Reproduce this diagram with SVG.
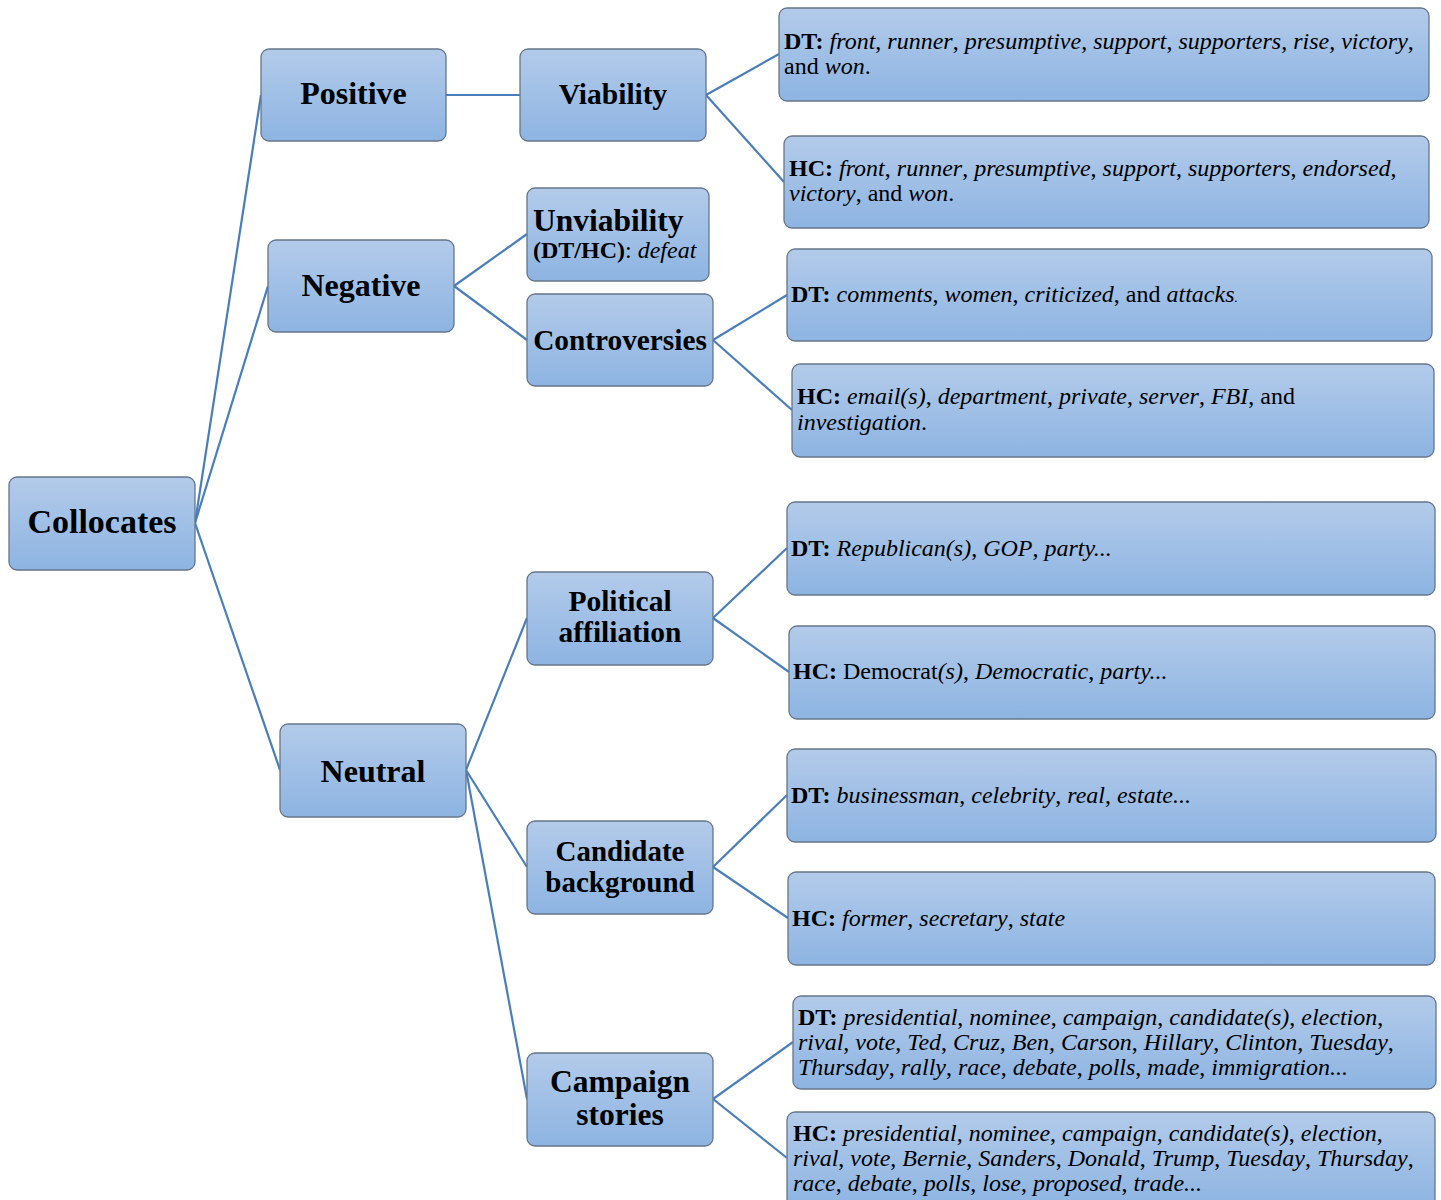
<svg xmlns="http://www.w3.org/2000/svg" width="1441" height="1200" viewBox="0 0 1441 1200">
<defs>
<linearGradient id="g" x1="0" y1="0" x2="0" y2="1">
<stop offset="0" stop-color="#b3cbea"/>
<stop offset="1" stop-color="#8db4e2"/>
</linearGradient>
<style>
.box{fill:url(#g);stroke:#66768a;stroke-width:1.3}
.c{stroke:#4a7ebb;stroke-width:2.2;fill:none}
.n{font-family:"Liberation Serif","Times New Roman",serif;font-weight:bold;fill:#000;text-anchor:middle}
.t{font-family:"Liberation Serif","Times New Roman",serif;font-size:24px;fill:#000}
.b{font-weight:bold}
.i{font-style:italic}
</style>
</defs>
<rect width="1441" height="1200" fill="#fff"/>
<g id="connectors">
<line class="c" x1="195" y1="523" x2="261" y2="95"/>
<line class="c" x1="195" y1="523" x2="268" y2="286"/>
<line class="c" x1="195" y1="523" x2="280" y2="770"/>
<line class="c" x1="446" y1="95" x2="520" y2="95"/>
<line class="c" x1="706" y1="95" x2="779" y2="54"/>
<line class="c" x1="706" y1="95" x2="784" y2="182"/>
<line class="c" x1="454" y1="286" x2="527" y2="234"/>
<line class="c" x1="454" y1="286" x2="527" y2="340"/>
<line class="c" x1="713" y1="340" x2="787" y2="295"/>
<line class="c" x1="713" y1="340" x2="792" y2="410"/>
<line class="c" x1="466" y1="770" x2="527" y2="618"/>
<line class="c" x1="466" y1="770" x2="527" y2="867"/>
<line class="c" x1="466" y1="770" x2="527" y2="1099"/>
<line class="c" x1="713" y1="618" x2="787" y2="548"/>
<line class="c" x1="713" y1="618" x2="789" y2="672"/>
<line class="c" x1="713" y1="867" x2="787" y2="795"/>
<line class="c" x1="713" y1="867" x2="788" y2="918"/>
<line class="c" x1="713" y1="1099" x2="793" y2="1042"/>
<line class="c" x1="713" y1="1099" x2="787" y2="1158"/>
</g>
<g id="collocates"><rect class="box" x="9" y="477" width="186" height="93" rx="8"/><text class="n" x="102" y="533" font-size="34">Collocates</text></g>
<g id="positive"><rect class="box" x="261" y="49" width="185" height="92" rx="8"/><text class="n" x="353.5" y="104" font-size="32">Positive</text></g>
<g id="negative"><rect class="box" x="268" y="240" width="186" height="92" rx="8"/><text class="n" x="361" y="296" font-size="32">Negative</text></g>
<g id="neutral"><rect class="box" x="280" y="724" width="186" height="93" rx="8"/><text class="n" x="373" y="782" font-size="32">Neutral</text></g>
<g id="viability"><rect class="box" x="520" y="49" width="186" height="92" rx="8"/><text class="n" x="613" y="104" font-size="29.5">Viability</text></g>
<g id="unviability"><rect class="box" x="527" y="188" width="182" height="93" rx="8"/><text class="n" x="533" y="231" font-size="31.5" style="text-anchor:start">Unviability</text><text class="t" x="533" y="258"><tspan class="b">(DT/HC)</tspan>: <tspan class="i">defeat</tspan></text></g>
<g id="controversies"><rect class="box" x="527" y="294" width="186" height="92" rx="8"/><text class="n" x="620" y="350" font-size="29.3">Controversies</text></g>
<g id="political"><rect class="box" x="527" y="572" width="186" height="93" rx="8"/><text class="n" x="620" y="611" font-size="29.5">Political</text><text class="n" x="620" y="642" font-size="29.5">affiliation</text></g>
<g id="candidate"><rect class="box" x="527" y="821" width="186" height="93" rx="8"/><text class="n" x="620" y="861" font-size="29">Candidate</text><text class="n" x="620" y="892" font-size="29">background</text></g>
<g id="campaign"><rect class="box" x="527" y="1053" width="186" height="93" rx="8"/><text class="n" x="620" y="1092" font-size="31.5">Campaign</text><text class="n" x="620" y="1125" font-size="31.5">stories</text></g>
<g id="dt-viability"><rect class="box" x="779" y="8" width="650" height="93" rx="8"/><text class="t" x="784" y="49"><tspan class="b">DT:</tspan> <tspan class="i">front</tspan>, <tspan class="i">runner</tspan>, <tspan class="i">presumptive</tspan>, <tspan class="i">support</tspan>, <tspan class="i">supporters</tspan>, <tspan class="i">rise</tspan>, <tspan class="i">victory</tspan>,</text><text class="t" x="784" y="74">and <tspan class="i">won</tspan>.</text></g>
<g id="hc-viability"><rect class="box" x="784" y="136" width="645" height="92" rx="8"/><text class="t" x="789" y="176"><tspan class="b">HC:</tspan> <tspan class="i">front</tspan>, <tspan class="i">runner</tspan>, <tspan class="i">presumptive</tspan>, <tspan class="i">support</tspan>, <tspan class="i">supporters</tspan>, <tspan class="i">endorsed</tspan>,</text><text class="t" x="789" y="201"><tspan class="i">victory</tspan>, and <tspan class="i">won</tspan>.</text></g>
<g id="dt-controversies"><rect class="box" x="787" y="249" width="645" height="92" rx="8"/><text class="t" x="791" y="302"><tspan class="b">DT:</tspan> <tspan class="i">comments</tspan>, <tspan class="i">women</tspan>, <tspan class="i">criticized</tspan>, and <tspan class="i">attacks</tspan><tspan class="i" font-size="13">.</tspan></text></g>
<g id="hc-controversies"><rect class="box" x="792" y="364" width="642" height="93" rx="8"/><text class="t" x="797" y="404"><tspan class="b">HC:</tspan> <tspan class="i">email(s)</tspan>, <tspan class="i">department</tspan>, <tspan class="i">private</tspan>, <tspan class="i">server</tspan>, <tspan class="i">FBI</tspan>, and</text><text class="t" x="797" y="430"><tspan class="i">investigation</tspan>.</text></g>
<g id="dt-political"><rect class="box" x="787" y="502" width="648" height="93" rx="8"/><text class="t" x="791" y="556"><tspan class="b">DT:</tspan> <tspan class="i">Republican(s)</tspan>, <tspan class="i">GOP</tspan>, <tspan class="i">party...</tspan></text></g>
<g id="hc-political"><rect class="box" x="789" y="626" width="646" height="93" rx="8"/><text class="t" x="793" y="679"><tspan class="b">HC:</tspan> Democrat<tspan class="i">(s)</tspan>, <tspan class="i">Democratic</tspan>, <tspan class="i">party...</tspan></text></g>
<g id="dt-candidate"><rect class="box" x="787" y="749" width="649" height="93" rx="8"/><text class="t" x="791" y="803"><tspan class="b">DT:</tspan> <tspan class="i">businessman</tspan>, <tspan class="i">celebrity</tspan>, <tspan class="i">real</tspan>, <tspan class="i">estate...</tspan></text></g>
<g id="hc-candidate"><rect class="box" x="788" y="872" width="647" height="93" rx="8"/><text class="t" x="792" y="926"><tspan class="b">HC:</tspan> <tspan class="i">former</tspan>, <tspan class="i">secretary</tspan>, <tspan class="i">state</tspan></text></g>
<g id="dt-campaign"><rect class="box" x="793" y="996" width="643" height="93" rx="8"/><text class="t" x="798" y="1025"><tspan class="b">DT:</tspan> <tspan class="i">presidential</tspan>, <tspan class="i">nominee</tspan>, <tspan class="i">campaign</tspan>, <tspan class="i">candidate(s)</tspan>, <tspan class="i">election</tspan>,</text><text class="t" x="798" y="1050"><tspan class="i">rival</tspan>, <tspan class="i">vote</tspan>, <tspan class="i">Ted</tspan>, <tspan class="i">Cruz</tspan>, <tspan class="i">Ben</tspan>, <tspan class="i">Carson</tspan>, <tspan class="i">Hillary</tspan>, <tspan class="i">Clinton</tspan>, <tspan class="i">Tuesday</tspan>,</text><text class="t" x="798" y="1075"><tspan class="i">Thursday</tspan>, <tspan class="i">rally</tspan>, <tspan class="i">race</tspan>, <tspan class="i">debate</tspan>, <tspan class="i">polls</tspan>, <tspan class="i">made</tspan>, <tspan class="i">immigration...</tspan></text></g>
<g id="hc-campaign"><rect class="box" x="787" y="1112" width="648" height="95" rx="8"/><text class="t" x="793" y="1141"><tspan class="b">HC:</tspan> <tspan class="i">presidential</tspan>, <tspan class="i">nominee</tspan>, <tspan class="i">campaign</tspan>, <tspan class="i">candidate(s)</tspan>, <tspan class="i">election</tspan>,</text><text class="t" x="793" y="1166"><tspan class="i">rival</tspan>, <tspan class="i">vote</tspan>, <tspan class="i">Bernie</tspan>, <tspan class="i">Sanders</tspan>, <tspan class="i">Donald</tspan>, <tspan class="i">Trump</tspan>, <tspan class="i">Tuesday</tspan>, <tspan class="i">Thursday</tspan>,</text><text class="t" x="793" y="1191"><tspan class="i">race</tspan>, <tspan class="i">debate</tspan>, <tspan class="i">polls</tspan>, <tspan class="i">lose</tspan>, <tspan class="i">proposed</tspan>, <tspan class="i">trade...</tspan></text></g>
</svg>
